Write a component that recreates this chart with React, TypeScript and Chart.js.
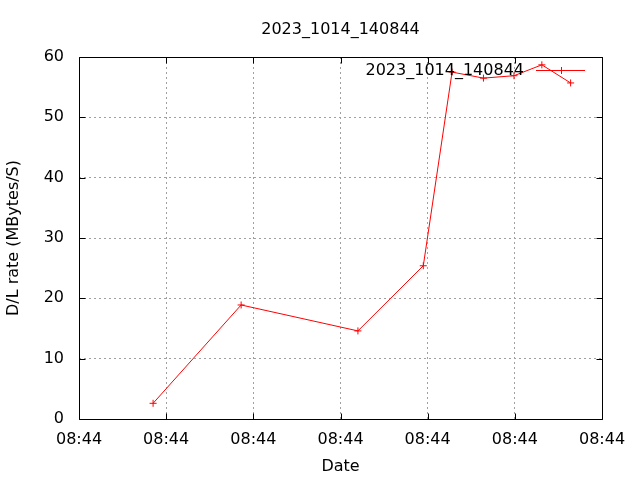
import React, { useEffect, useRef } from "react";
import { Chart, registerables } from "chart.js";

Chart.register(...registerables);

const chartTitle = "2023_1014_140844";
const seriesLabel = "2023_1014_140844";
const xAxisTitle = "Date";
const yAxisTitle = "D/L rate (MBytes/S)";
// elapsed seconds after 08:44:00
const elapsedSeconds = [8.5, 18.6, 32.0, 39.5, 42.8, 46.4, 49.9, 53.1, 56.4];
const rateValues = [2.6, 18.9, 14.6, 25.4, 57.5, 56.5, 56.9, 58.7, 55.7];
const xTickLabels = ["08:44", "08:44", "08:44", "08:44", "08:44", "08:44", "08:44"];
const yTickValues = [0, 10, 20, 30, 40, 50, 60];

const FONT = "DejaVu Sans";
const RED = "#ff0000";

const framePlugin = {
  id: "gnuplotFrame",
  afterDraw(chart: any) {
    const { ctx, chartArea } = chart;
    const { left, right, top, bottom } = chartArea;
    const xs = chart.scales.x;
    const ys = chart.scales.y;
    ctx.save();
    ctx.strokeStyle = "#000";
    ctx.lineWidth = 1;
    ctx.setLineDash([]);
    const L = Math.round(left) + 0.5;
    const R = Math.round(right) + 0.5;
    const T = Math.round(top) + 0.5;
    const B = Math.round(bottom) + 0.5;
    ctx.beginPath();
    ctx.rect(L, T, R - L, B - T);
    const tl = 6;
    xs.ticks.forEach((t: any) => {
      const px = Math.round(xs.getPixelForValue(t.value)) + 0.5;
      ctx.moveTo(px, B);
      ctx.lineTo(px, B - tl);
      ctx.moveTo(px, T);
      ctx.lineTo(px, T + tl);
    });
    ys.ticks.forEach((t: any) => {
      const py = Math.round(ys.getPixelForValue(t.value)) + 0.5;
      ctx.moveTo(L, py);
      ctx.lineTo(L + tl, py);
      ctx.moveTo(R, py);
      ctx.lineTo(R - tl, py);
    });
    ctx.stroke();

    // key (legend) in gnuplot style: text right-aligned, then sample line with point
    const ds = chart.data.datasets[0];
    const ky = 70.5;
    const sampleL = right - 66;
    const sampleR = right - 17;
    ctx.font = `16px "${FONT}"`;
    ctx.fillStyle = "#000";
    ctx.textAlign = "right";
    ctx.textBaseline = "middle";
    ctx.fillText(ds.label, sampleL - 12, ky);
    ctx.strokeStyle = RED;
    ctx.beginPath();
    ctx.moveTo(sampleL, ky);
    ctx.lineTo(sampleR, ky);
    const cx = Math.round((sampleL + sampleR) / 2) + 0.5;
    ctx.moveTo(cx - 3.5, ky);
    ctx.lineTo(cx + 3.5, ky);
    ctx.moveTo(cx, ky - 3.5);
    ctx.lineTo(cx, ky + 3.5);
    ctx.stroke();
    ctx.restore();
  },
};

export default function App() {
  const canvasRef = useRef<HTMLCanvasElement | null>(null);

  useEffect(() => {
    if (!canvasRef.current) return;
    const chart = new Chart(canvasRef.current, {
      type: "line",
      data: {
        datasets: [
          {
            label: seriesLabel,
            data: elapsedSeconds.map((x, i) => ({ x, y: rateValues[i] })),
            borderColor: RED,
            backgroundColor: RED,
            borderWidth: 1,
            pointStyle: "cross",
            pointRadius: 3.5,
            pointBorderWidth: 1,
            pointBorderColor: RED,
            fill: false,
            tension: 0,
          },
        ],
      },
      options: {
        responsive: false,
        animation: false,
        layout: { padding: { left: 0, right: 38, top: 0, bottom: 0 } },
        plugins: {
          legend: { display: false },
          tooltip: { enabled: false },
          title: {
            display: true,
            text: chartTitle,
            fullSize: false,
            color: "#000",
            font: { family: FONT, size: 16, weight: "normal" },
            padding: { top: 20.5, bottom: 17.3 },
          },
        },
        scales: {
          x: {
            type: "linear",
            min: 0,
            max: 60,
            afterFit: (s: any) => {
              s.height = 61;
            },
            afterBuildTicks: (s: any) => {
              s.ticks = xTickLabels.map((_, i) => ({ value: i * 10 }));
            },
            ticks: {
              color: "#000",
              font: { family: FONT, size: 16 },
              padding: 11,
              maxRotation: 0,
              autoSkip: false,
              callback: (_v: any, i: number) => xTickLabels[i],
            },
            grid: {
              color: "#a0a0a0",
              lineWidth: 1,
              drawTicks: false,
            },
            border: { display: false, dash: [2, 3] },
            title: {
              display: true,
              text: xAxisTitle,
              color: "#000",
              font: { family: FONT, size: 16 },
              padding: { top: 0, bottom: 4 },
            },
          },
          y: {
            type: "linear",
            min: 0,
            max: 60,
            afterFit: (s: any) => {
              s.width = 79;
            },
            afterBuildTicks: (s: any) => {
              s.ticks = yTickValues.map((v) => ({ value: v }));
            },
            ticks: {
              color: "#000",
              font: { family: FONT, size: 16 },
              padding: 15,
              autoSkip: false,
            },
            grid: {
              color: "#a0a0a0",
              lineWidth: 1,
              drawTicks: false,
            },
            border: { display: false, dash: [2, 3] },
            title: {
              display: true,
              text: yAxisTitle,
              color: "#000",
              font: { family: FONT, size: 16 },
              padding: { top: 4.5, bottom: 0 },
            },
          },
        },
      },
      plugins: [framePlugin],
    } as any);
    return () => chart.destroy();
  }, []);

  return (
    <div style={{ position: "absolute", left: 0, top: 0, width: 640, height: 480, background: "#fff" }}>
      <canvas ref={canvasRef} width={640} height={480} />
    </div>
  );
}
